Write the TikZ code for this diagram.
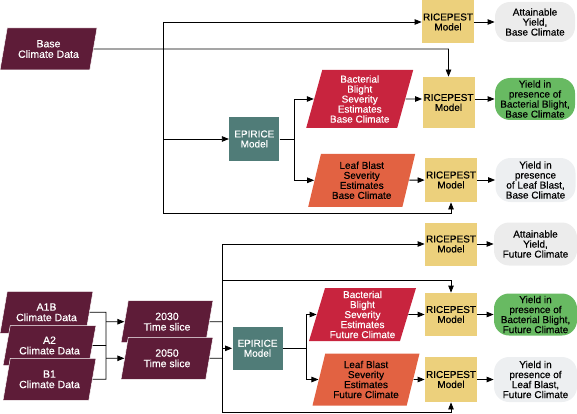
\documentclass[tikz,border=0pt]{standalone}
\usepackage{fontspec}
\setmainfont{Liberation Sans}
\newfontfamily\boxfont{Liberation Sans}[FakeBold=0.5]
\usetikzlibrary{shapes.geometric,arrows.meta}

\definecolor{datamaroon}{RGB}{94,28,56}
\definecolor{episteel}{RGB}{80,124,120}
\definecolor{riceyellow}{RGB}{236,208,124}
\definecolor{blightred}{RGB}{200,36,62}
\definecolor{blastorange}{RGB}{226,98,66}
\definecolor{yieldgreen}{RGB}{104,186,98}
\definecolor{yieldgray}{RGB}{236,236,236}
\definecolor{yieldpale}{RGB}{237,239,241}

\tikzset{
  box/.style={align=center, inner sep=1pt, font=\boxfont\fontsize{10}{10}\selectfont},
  climdata/.style={box, trapezium, trapezium left angle=70, trapezium right angle=110,
    trapezium stretches body, fill=datamaroon, draw=white, line width=0.5pt, text=white,
    font=\boxfont\fontsize{10.5}{10.5}\selectfont, minimum width=93pt, minimum height=42pt},
  blight/.style={box, trapezium, trapezium left angle=72, trapezium right angle=108,
    trapezium stretches body, fill=blightred, text=white, minimum width=107pt},
  blast/.style={box, trapezium, trapezium left angle=72, trapezium right angle=108,
    trapezium stretches body, fill=blastorange, minimum width=107pt},
  ricebox/.style={box, fill=riceyellow, minimum width=52pt, minimum height=43pt},
  epibox/.style={box, fill=episteel, text=white, minimum width=50pt, minimum height=43pt},
  grayyield/.style={box, fill=yieldgray, rounded corners=15pt, minimum width=80pt, minimum height=42pt},
  greenyield/.style={grayyield, fill=yieldgreen}
}

\begin{document}
\begin{tikzpicture}[x=1pt,y=-1pt,line width=0.8pt,>={Triangle[length=7pt,width=5.5pt]}]
\useasboundingbox (0,0) rectangle (577,414);

\node[climdata, minimum width=97pt] (basedata) at (48.5,49) {Base\\Climate Data};
\node[ricebox] (rp1) at (448,22) {RICEPEST\\Model};
\node[grayyield, minimum height=40pt] (att1) at (535,22) {Attainable\\Yield,\\Base Climate};
\node[epibox] (epi1) at (254.3,139) {EPIRICE\\Model};
\node[blight, minimum height=58pt] (bb1) at (359.7,99) {Bacterial\\Blight\\Severity\\Estimates\\Base Climate};
\node[ricebox, minimum height=51pt] (rp2) at (448.5,102.5) {RICEPEST\\Model};
\node[greenyield] (y2) at (535,99) {Yield in\\presence of\\Bacterial Blight,\\Base Climate};
\node[blast, minimum height=53pt] (lb1) at (361.7,180.3) {Leaf Blast\\Severity\\Estimates\\Base Climate};
\node[ricebox, minimum height=44pt] (rp3) at (451,180) {RICEPEST\\Model};
\node[grayyield, fill=yieldpale, minimum height=44pt] (y3) at (535.5,180) {Yield in\\presence\\of Leaf Blast,\\Base Climate};

\node[climdata] (a1b) at (46.5,312.3) {A1B\\Climate Data};
\node[climdata, minimum height=40pt] (a2) at (49.5,345.5) {A2\\Climate Data};
\node[climdata] (b1) at (49.5,379.3) {B1\\Climate Data};
\node[climdata, minimum width=92pt] (t30) at (167,321.7) {2030\\Time slice};
\node[climdata, minimum width=92pt] (t50) at (167,358.3) {2050\\Time slice};
\node[epibox] (epi2) at (257.5,348.3) {EPIRICE\\Model};
\node[ricebox] (rp4) at (451,244) {RICEPEST\\Model};
\node[grayyield, minimum width=83pt, minimum height=43pt] (att2) at (535.5,244) {Attainable\\Yield,\\Future Climate};
\node[blight, minimum height=53pt] (bb2) at (362.5,314.5) {Bacterial\\Blight\\Severity\\Estimates\\Future Climate};
\node[ricebox] (rp5) at (451,314.5) {RICEPEST\\Model};
\node[greenyield, minimum width=83pt] (y5) at (535.5,314.5) {Yield in\\presence of\\Bacterial Blight,\\Future Climate};
\node[blast, minimum height=52pt] (lb2) at (366,379.5) {Leaf Blast\\Severity\\Estimates\\Future Climate};
\node[ricebox, minimum height=45pt] (rp6) at (451,379.5) {RICEPEST\\Model};
\node[grayyield, fill=yieldpale, minimum width=83pt, minimum height=45pt] (y6) at (535.5,379.5) {Yield in\\presence of\\Leaf Blast,\\Future Climate};

\coordinate (bus1top) at (163,22);
\coordinate (bus1bot) at (163,213);
\coordinate (split1) at (294.3,139);
\coordinate (merge) at (106,312.3);
\coordinate (bus2top) at (222,244);
\coordinate (bus2mid) at (222,280);
\coordinate (bus2bot) at (222,412);
\coordinate (split2) at (306,348.3);

\draw (bus1top) -- (bus1bot);
\draw[->] (bus1top) -- (rp1);
\draw[->] (basedata) -- (basedata -| rp2) -- (rp2);
\draw[->] (bus1top |- epi1) -- (epi1);
\draw[->] (bus1bot) -| (rp3);
\draw (epi1) -- (split1);
\draw[->] (split1) |- (bb1);
\draw[->] (split1) |- (lb1);
\draw[->] (bb1) -- (bb1 -| rp2.west);
\draw[->] (lb1) -- (rp3);
\draw[->] (rp1) -- (att1);
\draw[->] (rp2.east |- y2) -- (y2);
\draw[->] (rp3) -- (y3);

\draw (a1b) -- (a1b -| merge) -- (b1 -| merge) -- (b1);
\draw (a2) -- (a2 -| merge);
\draw[->] (merge |- t30) -- (t30);
\draw[->] (merge |- t50) -- (t50);
\draw (t30) -- (t30 -| bus2top);
\draw (t50) -- (t50 -| bus2top);
\draw (bus2top) -- (bus2bot);
\draw[->] (bus2top) -- (rp4);
\draw[->] (bus2mid) -| (rp5);
\draw[->] (bus2top |- epi2) -- (epi2);
\draw[->] (bus2bot) -| (rp6);
\draw (epi2) -- (split2);
\draw[->] (split2) |- (bb2);
\draw[->] (split2) |- (lb2);
\draw[->] (bb2) -- (rp5);
\draw[->] (lb2) -- (rp6);
\draw[->] (rp4) -- (att2);
\draw[->] (rp5) -- (y5);
\draw[->] (rp6) -- (y6);
\end{tikzpicture}
\end{document}
